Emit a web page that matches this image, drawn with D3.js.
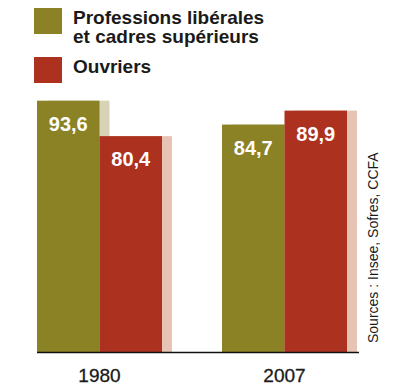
<!DOCTYPE html>
<html><head><meta charset="utf-8">
<script src="https://cdn.jsdelivr.net/npm/d3@7"></script>
<style>body{margin:0;background:#fff}svg{display:block}</style>
</head><body>
<svg id="c" width="400" height="391"></svg>
<script>
const years = ["1980", "2007"];
const seriesNames = ["Professions libérales\net cadres supérieurs", "Ouvriers"];
const cadres = [93.6, 84.7];
const ouvriers = [80.4, 89.9];
const source = "Sources : Insee, Sofres, CCFA";

const colors = ["#8a8224", "#ad311f"];
const shadows = ["#d6d3b6", "#e6c3b2"];
const font = "'Liberation Sans', Arial, sans-serif";

const svg = d3.select("#c");
const baseY = 352;
const y = d3.scaleLinear().domain([0, 100]).range([baseY, 83.5]);
const x0 = d3.scaleBand().domain(years).range([37, 407]).paddingInner(0.0).paddingOuter(0);
const x1 = d3.scaleBand().domain([0, 1]).range([0, 125]);

const data = years.map((yr, i) => ({ yr, vals: [cadres[i], ouvriers[i]] }));
const fmt = v => d3.format(".1f")(v).replace(".", ",");

const g = svg.append("g");
const groups = g.selectAll("g.grp").data(data).join("g")
  .attr("transform", d => `translate(${x0(d.yr)},0)`);

groups.each(function (d) {
  const sel = d3.select(this);
  d.vals.forEach((v, j) => {
    sel.append("rect")
      .attr("x", x1(j) + 10).attr("y", y(v))
      .attr("width", x1.bandwidth()).attr("height", baseY - y(v))
      .attr("fill", shadows[j]);
  });
});
groups.each(function (d) {
  const sel = d3.select(this);
  d.vals.forEach((v, j) => {
    sel.append("rect")
      .attr("x", x1(j)).attr("y", y(v))
      .attr("width", x1.bandwidth()).attr("height", baseY - y(v))
      .attr("fill", colors[j]);
    sel.append("text")
      .attr("x", x1(j) + x1.bandwidth() / 2).attr("y", y(v) + 30)
      .attr("text-anchor", "middle").attr("fill", "#fff")
      .attr("font-family", font).attr("font-weight", "bold").attr("font-size", 20)
      .text(fmt(v));
  });
});

svg.append("line").attr("x1", 37).attr("x2", 359).attr("y1", 352.5).attr("y2", 352.5)
  .attr("stroke", "#111").attr("stroke-width", 1.6);

svg.selectAll("text.yr").data(years).join("text")
  .attr("x", d => x0(d) + 62.5).attr("y", 382)
  .attr("text-anchor", "middle").attr("fill", "#1a1a1a")
  .attr("font-family", font).attr("font-size", 19).attr("stroke", "#1a1a1a").attr("stroke-width", 0.3)
  .text(d => d);

const leg = svg.append("g");
const legY = [8, 57];
seriesNames.forEach((n, i) => {
  leg.append("rect").attr("x", 34).attr("y", legY[i]).attr("width", 28).attr("height", 26).attr("fill", colors[i]);
  const t = leg.append("text").attr("x", 73).attr("y", legY[i] + 16)
    .attr("font-family", font).attr("font-weight", "bold").attr("font-size", 19)
    .attr("fill", "#1a1a1a");
  n.split("\n").forEach((line, k) => {
    t.append("tspan").attr("x", 73).attr("dy", k === 0 ? 0 : 19).text(line);
  });
});

svg.append("text")
  .attr("transform", "translate(378,343) rotate(-90)")
  .attr("font-family", font).attr("font-size", 14).attr("fill", "#1a1a1a")
  .text(source);
</script>
</body></html>
